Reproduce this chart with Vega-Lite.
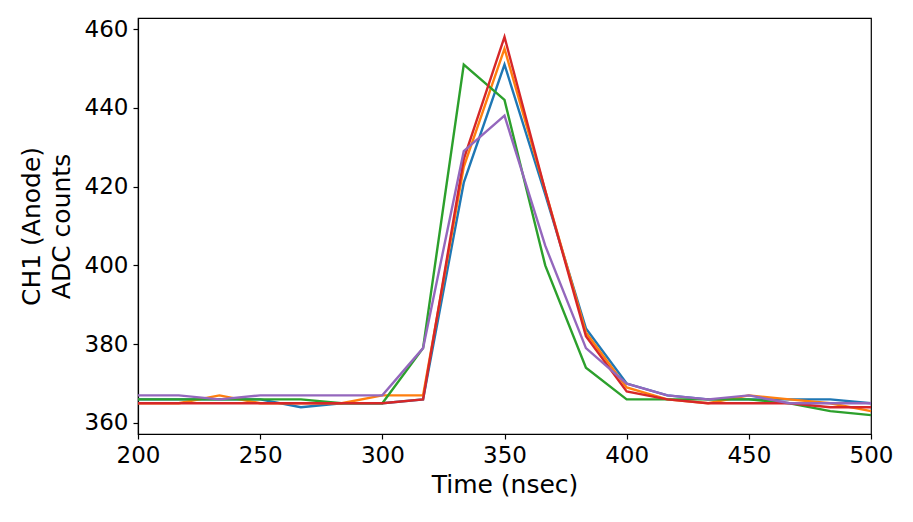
{
  "$schema": "https://vega.github.io/schema/vega-lite/v6.json",
  "autosize": "none",
  "padding": {"left": 138, "top": 18, "right": 42, "bottom": 88},
  "width": 733,
  "height": 416,
  "background": "white",
  "data": {
    "values": [
      {"s": "0", "t": 200, "v": 366}, {"s": "0", "t": 216.67, "v": 366}, {"s": "0", "t": 233.33, "v": 366}, {"s": "0", "t": 250, "v": 366}, {"s": "0", "t": 266.67, "v": 364}, {"s": "0", "t": 283.33, "v": 365}, {"s": "0", "t": 300, "v": 365}, {"s": "0", "t": 316.67, "v": 366}, {"s": "0", "t": 333.33, "v": 421}, {"s": "0", "t": 350, "v": 451}, {"s": "0", "t": 366.67, "v": 418}, {"s": "0", "t": 383.33, "v": 384}, {"s": "0", "t": 400, "v": 370}, {"s": "0", "t": 416.67, "v": 367}, {"s": "0", "t": 433.33, "v": 366}, {"s": "0", "t": 450, "v": 366}, {"s": "0", "t": 466.67, "v": 366}, {"s": "0", "t": 483.33, "v": 366}, {"s": "0", "t": 500, "v": 365},
      {"s": "1", "t": 200, "v": 365}, {"s": "1", "t": 216.67, "v": 365}, {"s": "1", "t": 233.33, "v": 367}, {"s": "1", "t": 250, "v": 365}, {"s": "1", "t": 266.67, "v": 365}, {"s": "1", "t": 283.33, "v": 365}, {"s": "1", "t": 300, "v": 367}, {"s": "1", "t": 316.67, "v": 367}, {"s": "1", "t": 333.33, "v": 425}, {"s": "1", "t": 350, "v": 455}, {"s": "1", "t": 366.67, "v": 419}, {"s": "1", "t": 383.33, "v": 383}, {"s": "1", "t": 400, "v": 369}, {"s": "1", "t": 416.67, "v": 366}, {"s": "1", "t": 433.33, "v": 365}, {"s": "1", "t": 450, "v": 367}, {"s": "1", "t": 466.67, "v": 366}, {"s": "1", "t": 483.33, "v": 365}, {"s": "1", "t": 500, "v": 363},
      {"s": "2", "t": 200, "v": 366}, {"s": "2", "t": 216.67, "v": 366}, {"s": "2", "t": 233.33, "v": 366}, {"s": "2", "t": 250, "v": 366}, {"s": "2", "t": 266.67, "v": 366}, {"s": "2", "t": 283.33, "v": 365}, {"s": "2", "t": 300, "v": 365}, {"s": "2", "t": 316.67, "v": 379}, {"s": "2", "t": 333.33, "v": 451}, {"s": "2", "t": 350, "v": 442}, {"s": "2", "t": 366.67, "v": 400}, {"s": "2", "t": 383.33, "v": 374}, {"s": "2", "t": 400, "v": 366}, {"s": "2", "t": 416.67, "v": 366}, {"s": "2", "t": 433.33, "v": 366}, {"s": "2", "t": 450, "v": 366}, {"s": "2", "t": 466.67, "v": 365}, {"s": "2", "t": 483.33, "v": 363}, {"s": "2", "t": 500, "v": 362},
      {"s": "3", "t": 200, "v": 365}, {"s": "3", "t": 216.67, "v": 365}, {"s": "3", "t": 233.33, "v": 365}, {"s": "3", "t": 250, "v": 365}, {"s": "3", "t": 266.67, "v": 365}, {"s": "3", "t": 283.33, "v": 365}, {"s": "3", "t": 300, "v": 365}, {"s": "3", "t": 316.67, "v": 366}, {"s": "3", "t": 333.33, "v": 427}, {"s": "3", "t": 350, "v": 458}, {"s": "3", "t": 366.67, "v": 419}, {"s": "3", "t": 383.33, "v": 382}, {"s": "3", "t": 400, "v": 368}, {"s": "3", "t": 416.67, "v": 366}, {"s": "3", "t": 433.33, "v": 365}, {"s": "3", "t": 450, "v": 365}, {"s": "3", "t": 466.67, "v": 365}, {"s": "3", "t": 483.33, "v": 364}, {"s": "3", "t": 500, "v": 364},
      {"s": "4", "t": 200, "v": 367}, {"s": "4", "t": 216.67, "v": 367}, {"s": "4", "t": 233.33, "v": 366}, {"s": "4", "t": 250, "v": 367}, {"s": "4", "t": 266.67, "v": 367}, {"s": "4", "t": 283.33, "v": 367}, {"s": "4", "t": 300, "v": 367}, {"s": "4", "t": 316.67, "v": 379}, {"s": "4", "t": 333.33, "v": 429}, {"s": "4", "t": 350, "v": 438}, {"s": "4", "t": 366.67, "v": 405}, {"s": "4", "t": 383.33, "v": 379}, {"s": "4", "t": 400, "v": 370}, {"s": "4", "t": 416.67, "v": 367}, {"s": "4", "t": 433.33, "v": 366}, {"s": "4", "t": 450, "v": 367}, {"s": "4", "t": 466.67, "v": 365}, {"s": "4", "t": 483.33, "v": 365}, {"s": "4", "t": 500, "v": 365}
    ]
  },
  "mark": {"type": "line", "strokeWidth": 2.4},
  "encoding": {
    "x": {
      "field": "t", "type": "quantitative",
      "scale": {"domain": [200, 500], "nice": false, "zero": false},
      "axis": {"values": [200, 250, 300, 350, 400, 450, 500], "title": "Time (nsec)", "grid": false}
    },
    "y": {
      "field": "v", "type": "quantitative",
      "scale": {"domain": [357.2, 462.8], "nice": false, "zero": false},
      "axis": {"values": [360, 380, 400, 420, 440, 460], "title": ["CH1 (Anode)", "ADC counts"], "grid": false}
    },
    "color": {
      "field": "s", "type": "nominal", "legend": null,
      "scale": {"domain": ["0", "1", "2", "3", "4"], "range": ["#1f77b4", "#ff7f0e", "#2ca02c", "#d62728", "#9467bd"]}
    },
    "order": {"field": "t", "type": "quantitative"}
  },
  "config": {
    "view": {"stroke": "black", "strokeWidth": 1.2},
    "axis": {
      "domainColor": "black", "domainWidth": 1.2, "tickColor": "black", "tickWidth": 1.2, "tickSize": 5,
      "labelFont": "DejaVu Sans", "labelFontSize": 23, "labelColor": "black", "labelPadding": 5, "labelFlush": false, "labelOverlap": false,
      "titleFont": "DejaVu Sans", "titleFontSize": 25, "titleFontWeight": "normal", "titleColor": "black"
    },
    "axisX": {"titlePadding": 5},
    "axisY": {"titlePadding": 10, "titleLineHeight": 30}
  }
}
